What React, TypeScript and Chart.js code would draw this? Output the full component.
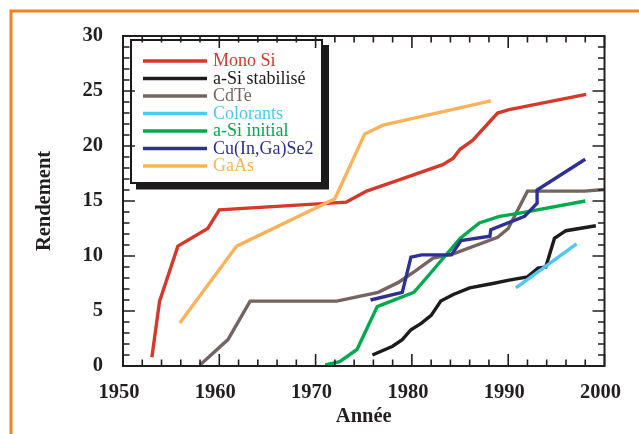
import React, { useEffect, useRef } from 'react';
import { Chart, registerables } from 'chart.js';

Chart.register(...registerables);

// ---------- data ----------
const seriesNames = ['Mono Si', 'a-Si stabilisé', 'CdTe', 'Colorants', 'a-Si initial', 'Cu(In,Ga)Se2', 'GaAs'];
const seriesColors = ['#d6382a', '#1c1c1c', '#756560', '#4dc8f0', '#00ab4e', '#2e3192', '#fcb25a'];

const monoSiYears = [1953.0, 1953.8, 1955.7, 1958.8, 1960.0, 1973.2, 1975.3, 1978.3, 1983.2, 1984.3, 1985.0, 1986.3, 1988.9, 1990.1, 1998.1];
const monoSiValues = [0.8, 5.9, 10.9, 12.5, 14.2, 14.9, 15.9, 16.8, 18.3, 18.9, 19.7, 20.5, 23.0, 23.3, 24.7];

const aSiStabYears = [1975.9, 1978.0, 1979.0, 1979.9, 1981.0, 1982.0, 1983.0, 1984.3, 1986.0, 1988.4, 1990.1, 1992.0, 1993.1, 1993.9, 1994.8, 1996.0, 1999.1];
const aSiStabValues = [1.0, 1.8, 2.4, 3.3, 3.9, 4.6, 5.9, 6.5, 7.1, 7.5, 7.8, 8.1, 8.9, 9.0, 11.6, 12.3, 12.75];

const cdTeYears = [1958.0, 1960.9, 1963.2, 1972.2, 1976.5, 1978.6, 1980.3, 1982.2, 1984.3, 1988.9, 1990.0, 1992.0, 1997.9, 2000.0];
const cdTeValues = [0.1, 2.4, 5.9, 5.9, 6.7, 7.6, 8.6, 9.8, 10.2, 11.7, 12.5, 15.9, 15.9, 16.05];

const colorantsYears = [1990.8, 1997.1];
const colorantsValues = [7.1, 11.1];

const aSiInitYears = [1971.0, 1972.5, 1974.3, 1976.4, 1980.2, 1981.5, 1985.0, 1987.0, 1989.1, 1991.2, 1998.0];
const aSiInitValues = [0.1, 0.4, 1.5, 5.4, 6.7, 8.0, 11.6, 13.0, 13.6, 13.9, 15.0];

const cigsYears = [1975.7, 1979.0, 1979.9, 1981.0, 1984.1, 1985.1, 1988.1, 1988.2, 1991.7, 1993.0, 1993.0, 1998.0];
const cigsValues = [6.0, 6.7, 9.9, 10.1, 10.1, 11.4, 11.8, 12.4, 13.6, 14.8, 16.0, 18.8];

const gaAsYears = [1955.9, 1961.8, 1972.0, 1975.1, 1977.0, 1988.2];
const gaAsValues = [3.9, 10.9, 15.2, 21.1, 21.9, 24.1];

const allYears = [monoSiYears, aSiStabYears, cdTeYears, colorantsYears, aSiInitYears, cigsYears, gaAsYears];
const allValues = [monoSiValues, aSiStabValues, cdTeValues, colorantsValues, aSiInitValues, cigsValues, gaAsValues];

const xTitle = 'Année';
const yTitle = 'Rendement';

const SERIF = '"Liberation Serif", "DejaVu Serif", serif';

const decorPlugin = {
  id: 'decor',
  beforeDraw(chart: any) {
    const ctx = chart.ctx;
    ctx.save();
    ctx.fillStyle = '#ffffff';
    ctx.fillRect(0, 0, chart.width, chart.height);
    ctx.strokeStyle = '#f5821f';
    ctx.lineWidth = 3;
    ctx.beginPath();
    ctx.moveTo(11, chart.height);
    ctx.lineTo(11, 11);
    ctx.lineTo(chart.width, 11);
    ctx.stroke();
    ctx.restore();
  },
  afterDraw(chart: any) {
    const ctx = chart.ctx;
    const { left, right, top, bottom } = chart.chartArea;
    const xs = chart.scales.x;
    const ys = chart.scales.y;
    ctx.save();
    // legend box
    const bx = 131, by = 40, bw = 191, bh = 143;
    ctx.fillStyle = '#1c1a1a';
    ctx.fillRect(bx + 5, by + 5, bw + 2, bh + 1.5);
    ctx.fillStyle = '#ffffff';
    ctx.fillRect(bx, by, bw, bh);
    ctx.strokeStyle = '#1c1a1a';
    ctx.lineWidth = 2;
    ctx.strokeRect(bx, by, bw, bh);
    ctx.font = `18px ${SERIF}`;
    ctx.textBaseline = 'middle';
    ctx.textAlign = 'left';
    chart.data.datasets.forEach((ds: any, i: number) => {
      const yy = 61 + i * 17.5;
      ctx.strokeStyle = ds.borderColor;
      ctx.lineWidth = 3.5;
      ctx.beginPath();
      ctx.moveTo(143, yy);
      ctx.lineTo(207, yy);
      ctx.stroke();
      ctx.fillStyle = ds.borderColor;
      ctx.fillText(ds.label, 213, yy + 0.5);
    });
    // plot frame
    ctx.strokeStyle = '#231f20';
    ctx.lineWidth = 2;
    ctx.strokeRect(left, top, right - left, bottom - top);
    // inward ticks
    ctx.lineWidth = 1.6;
    ctx.beginPath();
    for (let v = xs.min; v <= xs.max + 1e-6; v += 2) {
      const px = xs.getPixelForValue(v);
      const len = Math.abs(v % 10) < 1e-6 ? 12 : 6.5;
      ctx.moveTo(px, bottom);
      ctx.lineTo(px, bottom - len);
      ctx.moveTo(px, top);
      ctx.lineTo(px, top + len);
    }
    for (let v = ys.min; v <= ys.max + 1e-6; v += 1) {
      const py = ys.getPixelForValue(v);
      const len = Math.abs(v % 5) < 1e-6 ? 12 : 6.5;
      ctx.moveTo(left, py);
      ctx.lineTo(left + len, py);
      ctx.moveTo(right, py);
      ctx.lineTo(right - len, py);
    }
    ctx.stroke();
    ctx.restore();
  },
};

export default function App() {
  const ref = useRef<HTMLCanvasElement | null>(null);
  useEffect(() => {
    document.body.style.margin = '0';
    const canvas = ref.current;
    if (!canvas) return;
    const datasets = seriesNames.map((name, i) => ({
      label: name,
      data: allYears[i].map((yr, j) => ({ x: yr, y: allValues[i][j] })),
      borderColor: seriesColors[i],
      backgroundColor: seriesColors[i],
      borderWidth: 3.4,
      pointRadius: 0,
      tension: 0,
      fill: false,
      order: seriesNames.length - i,
    }));
    const chart = new Chart(canvas, {
      type: 'line',
      data: { datasets },
      plugins: [decorPlugin],
      options: {
        animation: false,
        responsive: false,
        devicePixelRatio: 1,
        layout: { padding: { left: 0, top: 36, right: 34, bottom: 0 } },
        plugins: { legend: { display: false }, tooltip: { enabled: false } },
        scales: {
          x: {
            type: 'linear',
            min: 1950,
            max: 2000,
            afterFit: (s: any) => { s.height = 68; },
            ticks: {
              stepSize: 10,
              padding: 14,
              labelOffset: -4,
              color: '#231f20',
              font: { family: SERIF, size: 20.5, weight: 'bold' },
              callback: (v: any) => String(v),
            },
            grid: { display: false, drawTicks: false },
            border: { display: false },
            title: {
              display: true,
              text: xTitle,
              color: '#231f20',
              font: { family: SERIF, size: 20.5, weight: 'bold' },
              padding: { top: 0, bottom: 5 },
            },
          },
          y: {
            type: 'linear',
            min: 0,
            max: 30,
            afterFit: (s: any) => { s.width = 123; },
            ticks: {
              stepSize: 5,
              padding: 20,
              color: '#231f20',
              font: { family: SERIF, size: 20.5, weight: 'bold' },
            },
            grid: { display: false, drawTicks: false },
            border: { display: false },
            title: {
              display: true,
              text: yTitle,
              color: '#231f20',
              font: { family: SERIF, size: 20.5, weight: 'bold' },
              padding: { top: 32, bottom: 0 },
            },
          },
        },
      },
    } as any);
    return () => chart.destroy();
  }, []);
  return <canvas ref={ref} width={639} height={434} style={{ display: 'block', width: 639, height: 434 }} />;
}
